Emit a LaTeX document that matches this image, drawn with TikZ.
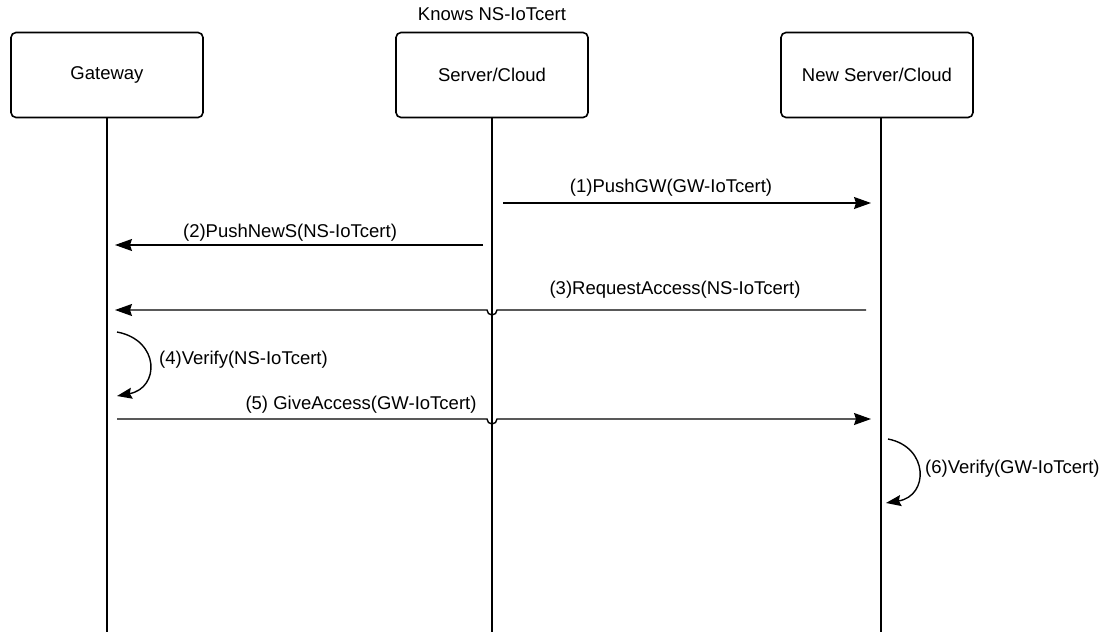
\documentclass[tikz,border=0pt]{standalone}
\usepackage{fontspec}
\setmainfont{Liberation Sans}
\usetikzlibrary{arrows.meta}

\tikzset{
  actor/.style={draw, line width=1.6pt, rounded corners=5pt, minimum width=192pt, minimum height=85pt, inner sep=0pt},
  lifeline/.style={line width=1.4pt},
  msg/.style={line width=1.4pt, -{Triangle[length=17pt, width=12pt, inset=2pt]}},
  loopmsg/.style={line width=1.4pt, -{Triangle[length=15pt, width=11pt, inset=2pt]}},
  lbl/.style={inner sep=2pt}
}

\begin{document}
\begin{tikzpicture}[x=1pt, y=-1pt, font=\fontsize{18.5pt}{21pt}\selectfont]
        \useasboundingbox[fill=white] (0,0) rectangle (1116,632);
        \def\jr{5}

        % participants
        \node[actor] (gw) at (107,75) {Gateway};
        \node[actor] (srv) at (492,75) {Server/Cloud};
        \node[actor] (nsrv) at (877,75) {New Server/Cloud};
        \node[lbl] (knows) at (492,14) {Knows NS-IoTcert};

        % lifeline ends
        \coordinate (gwEnd) at (107,632);
        \coordinate (srvEnd) at (492,632);
        \coordinate (nsrvEnd) at (881,632);
        \draw[lifeline] (gw.south) -- (gwEnd);
        \draw[lifeline] (srv.south) -- (srvEnd);
        \draw[lifeline] ([xshift=4pt]nsrv.south) -- (nsrvEnd);

        % message end points
        \coordinate (m1a) at (503,203);
        \coordinate (m1b) at (871,203);
        \coordinate (m2a) at (483,245);
        \coordinate (m2b) at (115,245);
        \coordinate (m3a) at (866,310);
        \coordinate (m3b) at (115,310);
        \coordinate (m4a) at (117,332);
        \coordinate (m4b) at (117,396);
        \coordinate (m5a) at (117,419);
        \coordinate (m5b) at (871,419);
        \coordinate (m6a) at (888,439);
        \coordinate (m6b) at (886,503);

        % (1)
        \draw[msg] (m1a) -- (m1b);
        \node[lbl] (l1) at (671,188) {(1)PushGW(GW-IoTcert)};
        % (2)
        \draw[msg] (m2a) -- (m2b);
        \node[lbl] (l2) at (290,233) {(2)PushNewS(NS-IoTcert)};
        % (3), hops over the server lifeline
        \draw[msg] (m3a) -- (492+\jr,310) arc[start angle=0, end angle=180, radius=\jr] -- (m3b);
        \node[lbl] (l3) at (675,290) {(3)RequestAccess(NS-IoTcert)};
        % (4)
        \draw[loopmsg] (m4a) .. controls (160,340) and (160,388) .. (m4b);
        \node[lbl, anchor=west] (l4) at (157,360) {(4)Verify(NS-IoTcert)};
        % (5), hops over the server lifeline
        \draw[msg] (m5a) -- (492-\jr,419) arc[start angle=180, end angle=0, radius=\jr] -- (m5b);
        \node[lbl] (l5) at (361,405) {(5) GiveAccess(GW-IoTcert)};
        % (6)
        \draw[loopmsg] (m6a) .. controls (929,447) and (929,496) .. (m6b);
        \node[lbl, anchor=west] (l6) at (923,469) {(6)Verify(GW-IoTcert)};
    \end{tikzpicture}
\end{document}
